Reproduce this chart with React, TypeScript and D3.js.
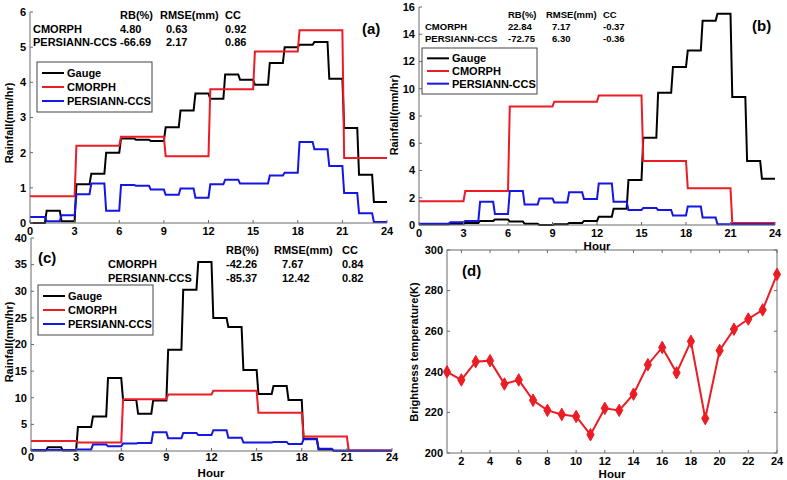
import React from "react";
import * as d3 from "d3";

const hoursTicks = [0, 3, 6, 9, 12, 15, 18, 21, 24];

const gaugeA = [0, 0.35, 0.05, 1.1, 1.4, 2.0, 2.4, 2.37, 2.33, 2.72, 3.2, 3.68, 3.53, 4.22, 4.07, 3.93, 4.55, 5.0, 5.07, 5.15, 4.1, 2.7, 1.37, 0.6];
const cmorphA = [0.76, 0.76, 0.76, 2.2, 2.2, 2.2, 2.45, 2.45, 2.45, 1.9, 1.9, 1.9, 3.8, 3.8, 3.8, 4.88, 4.88, 4.88, 5.48, 5.48, 5.48, 1.85, 1.85, 1.85];
const persA = [0.17, 0.05, 0.22, 0.82, 1.12, 0.35, 1.08, 1.06, 0.95, 0.8, 0.98, 0.72, 1.1, 1.23, 1.12, 1.12, 1.35, 1.43, 2.3, 2.1, 1.62, 0.85, 0.28, 0.03];

const gaugeB = [0.05, 0.05, 0.1, 0.15, 0.3, 0.4, 0.25, 0.1, 0.0, 0.05, 0.15, 0.3, 0.6, 1.2, 3.3, 6.4, 9.7, 11.6, 12.8, 15.0, 15.5, 9.4, 4.7, 3.4];
const cmorphB = [1.75, 1.75, 1.75, 2.5, 2.5, 2.5, 8.7, 8.7, 8.7, 9.05, 9.05, 9.05, 9.5, 9.5, 9.5, 4.7, 4.7, 4.7, 2.7, 2.7, 2.7, 0.15, 0.15, 0.15];
const persB = [0.1, 0.1, 0.2, 0.3, 1.7, 0.8, 2.5, 1.5, 1.95, 1.65, 2.4, 1.9, 3.05, 1.7, 1.1, 1.25, 1.1, 0.7, 1.35, 0.55, 0.05, 0.05, 0.05, 0.05];

const gaugeC = [0.1, 0.7, 0.1, 4.5, 6.5, 13.7, 9.6, 7.0, 9.5, 19.0, 30.3, 35.5, 25.0, 23.3, 15.2, 10.7, 12.2, 9.6, 2.3, 0.3, 0.05, 0.05, 0.05, 0.05];
const cmorphC = [1.9, 1.9, 1.9, 1.6, 1.6, 1.6, 9.7, 9.7, 9.7, 10.6, 10.6, 10.6, 11.3, 11.3, 11.3, 7.2, 7.2, 7.2, 2.7, 2.7, 2.7, 0.1, 0.1, 0.1];
const persC = [0.2, 0.2, 0.2, 0.3, 1.2, 0.9, 1.4, 1.5, 3.5, 2.4, 3.4, 3.0, 3.9, 2.5, 1.6, 1.6, 1.7, 1.3, 2.2, 0.4, 0.05, 0.05, 0.05, 0.05];

const statsA = [["CMORPH", "4.80", "0.63", "0.92"], ["PERSIANN-CCS", "-66.69", "2.17", "0.86"]];
const statsB = [["CMORPH", "22.84", "7.17", "-0.37"], ["PERSIANN-CCS", "-72.75", "6.30", "-0.36"]];
const statsC = [["CMORPH", "-42.26", "7.67", "0.84"], ["PERSIANN-CCS", "-85.37", "12.42", "0.82"]];
const statHeaders = ["RB(%)", "RMSE(mm)", "CC"];
const legendNames = ["Gauge", "CMORPH", "PERSIANN-CCS"];

const tbHours = d3.range(1, 25);
const tbValues = [240, 236, 245, 245.5, 234, 236, 226, 221, 219, 218, 209, 222, 221, 229, 243.5, 252, 239.5, 255, 217, 250.5, 261, 266, 270.5, 288];
const tbXTicks = [2, 4, 6, 8, 10, 12, 14, 16, 18, 20, 22, 24];
const tbYTicks = [200, 220, 240, 260, 280, 300];

const BLACK = "#000";
const RED = "#ec1c24";
const BLUE = "#1515e6";
const AXIS = "#6a6a6a";
const FONT = "'Liberation Sans', Arial, sans-serif";

function stepPoints(vals: number[]): [number, number][] {
  const pts: [number, number][] = [];
  vals.forEach((v, i) => {
    pts.push([i === 0 ? 0 : i + 0.12, v]);
    pts.push([i + 1, v]);
  });
  return pts;
}

type PanelProps = {
  x0: number; x1: number; yTop: number; yBot: number;
  yMax: number; yStep: number;
  series: number[][];
  stats: string[][];
  statX: number[]; statY: number[]; statFont: number; rmseShift: number;
  tag: string; tagX: number; tagY: number;
  legX: number; legY: number; legH: number;
  ylabY: number; ylabX: number;
  tickDy: number;
  hour?: [number, number];
};

function RainPanel(p: PanelProps) {
  const x = d3.scaleLinear().domain([0, 24]).range([p.x0, p.x1]);
  const y = d3.scaleLinear().domain([0, p.yMax]).range([p.yBot, p.yTop]);
  const line = d3.line<[number, number]>().x((d) => x(d[0])).y((d) => y(d[1]));
  const colors = [BLACK, RED, BLUE];
  const yTicks = d3.range(0, p.yMax + 0.001, p.yStep);
  const rowH = (p.legH - 8) / 3;
  return (
    <g fontFamily={FONT} fontWeight="bold">
      {p.series.map((s, i) => (
        <path key={i} d={line(stepPoints(s)) || ""} fill="none" stroke={colors[i]} strokeWidth={2} strokeLinejoin="miter" />
      ))}
      <line x1={p.x0} x2={p.x0} y1={p.yTop} y2={p.yBot} stroke={AXIS} strokeWidth={1} />
      <line x1={p.x0} x2={p.x1} y1={p.yBot} y2={p.yBot} stroke={AXIS} strokeWidth={1} />
      {yTicks.map((t) => (
        <g key={"y" + t}>
          <line x1={p.x0} x2={p.x0 + 3} y1={y(t)} y2={y(t)} stroke={AXIS} />
          <text x={p.x0 - 4} y={y(t)} dy="0.35em" textAnchor="end" fontSize={11}>{t}</text>
        </g>
      ))}
      {hoursTicks.map((t) => (
        <g key={"x" + t}>
          <line x1={x(t)} x2={x(t)} y1={p.yBot} y2={p.yBot - 3} stroke={AXIS} />
          <text x={x(t)} y={p.yBot + p.tickDy} textAnchor="middle" fontSize={11}>{t}</text>
        </g>
      ))}
      <text transform={`translate(${p.ylabX},${p.ylabY}) rotate(-90)`} textAnchor="middle" fontSize={11}>Rainfall(mm/hr)</text>
      {p.hour && <text x={p.hour[0]} y={p.hour[1]} textAnchor="middle" fontSize={11.5}>Hour</text>}
      {statHeaders.map((h, i) => (
        <text key={h} x={p.statX[i + 1]} y={p.statY[0]} fontSize={p.statFont}>{h}</text>
      ))}
      {p.stats.map((row, r) => (
        <g key={r}>
          <text x={p.statX[0]} y={p.statY[r + 1]} fontSize={p.statFont}>{row[0]}</text>
          {row.slice(1).map((v, c) => (
            <text key={c} x={p.statX[c + 1] + (c === 1 ? p.rmseShift : 0)} y={p.statY[r + 1]} fontSize={p.statFont}>{v}</text>
          ))}
        </g>
      ))}
      <text x={p.tagX} y={p.tagY} fontSize={15}>{p.tag}</text>
      <rect x={p.legX} y={p.legY} width={115} height={p.legH} fill="#fff" stroke="#444" strokeWidth={1} />
      {legendNames.map((n, i) => (
        <g key={n}>
          <line x1={p.legX + 5} x2={p.legX + 27} y1={p.legY + 4 + rowH * (i + 0.5)} y2={p.legY + 4 + rowH * (i + 0.5)} stroke={colors[i]} strokeWidth={2} />
          <text x={p.legX + 30} y={p.legY + 4 + rowH * (i + 0.5)} dy="0.35em" fontSize={11}>{n}</text>
        </g>
      ))}
    </g>
  );
}

function TbPanel() {
  const x0 = 447, x1 = 777, yTop = 250, yBot = 453;
  const x = d3.scaleLinear().domain([1, 24]).range([x0, x1]);
  const y = d3.scaleLinear().domain([200, 300]).range([yBot, yTop]);
  const line = d3.line<number>().x((_, i) => x(tbHours[i])).y((d) => y(d));
  const diamond = d3.symbol().type(d3.symbolDiamond).size(45)();
  return (
    <g fontFamily={FONT} fontWeight="bold">
      <rect x={x0} y={yTop} width={x1 - x0} height={yBot - yTop} fill="#fff" stroke={AXIS} />
      {tbYTicks.map((t) => (
        <g key={t}>
          <line x1={x0} x2={x0 + 3} y1={y(t)} y2={y(t)} stroke={AXIS} />
          <line x1={x1} x2={x1 - 3} y1={y(t)} y2={y(t)} stroke={AXIS} />
          <text x={x0 - 4} y={y(t)} dy="0.35em" textAnchor="end" fontSize={11}>{t}</text>
        </g>
      ))}
      {tbXTicks.map((t) => (
        <g key={t}>
          <line x1={x(t)} x2={x(t)} y1={yBot} y2={yBot - 3} stroke={AXIS} />
          <line x1={x(t)} x2={x(t)} y1={yTop} y2={yTop + 3} stroke={AXIS} />
          <text x={x(t)} y={yBot + 12} textAnchor="middle" fontSize={11}>{t}</text>
        </g>
      ))}
      <path d={line(tbValues) || ""} fill="none" stroke={RED} strokeWidth={2} />
      {tbValues.map((v, i) => (
        <path key={i} d={diamond || ""} transform={`translate(${x(tbHours[i])},${y(v)})`} fill={RED} stroke={RED} />
      ))}
      <text transform={`translate(418,352) rotate(-90)`} textAnchor="middle" fontSize={11}>Brightness temperature(K)</text>
      <text x={612} y={478} textAnchor="middle" fontSize={11.5}>Hour</text>
      <text x={462} y={276} fontSize={15}>(d)</text>
    </g>
  );
}

export default function App() {
  return (
    <svg width={787} height={480} style={{ position: "absolute", left: 0, top: 0, background: "#fff" }}>
      <rect width={787} height={480} fill="#fff" />
      <RainPanel x0={30} x1={387} yTop={12} yBot={223} yMax={6} yStep={1}
        series={[gaugeA, cmorphA, persA]} stats={statsA}
        statX={[33, 120, 160, 225]} statY={[19, 33, 46]} statFont={11} rmseShift={6}
        tag="(a)" tagX={362} tagY={34} legX={37} legY={62} legH={50} ylabX={13} ylabY={123} tickDy={12} />
      <TbPanel />
      <RainPanel x0={419} x1={775} yTop={7} yBot={225} yMax={16} yStep={2}
        series={[gaugeB, cmorphB, persB]} stats={statsB}
        statX={[425, 508, 546, 603]} statY={[18, 30, 42]} statFont={9.5} rmseShift={6}
        tag="(b)" tagX={752} tagY={31} legX={422} legY={48} legH={46} ylabX={398} ylabY={115} tickDy={12} hour={[597, 250]} />
      <RainPanel x0={31} x1={392} yTop={238} yBot={451} yMax={40} yStep={5}
        series={[gaugeC, cmorphC, persC]} stats={statsC}
        statX={[108, 226, 274, 342]} statY={[254, 268, 282]} statFont={11} rmseShift={8}
        tag="(c)" tagX={38} tagY={263} legX={38} legY={285} legH={50} ylabX={13} ylabY={342} tickDy={10} hour={[211, 477]} />
    </svg>
  );
}
